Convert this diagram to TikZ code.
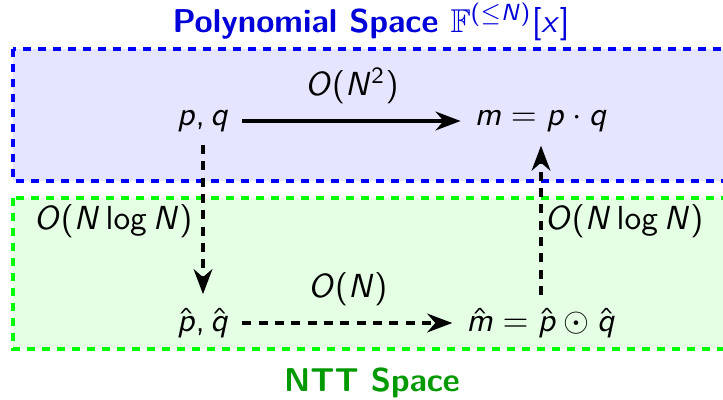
\documentclass[tikz,border=0pt]{standalone}
\usepackage{amssymb}
\usetikzlibrary{arrows.meta}
\DeclareSymbolFont{sfops}{OT1}{cmss}{m}{n}
\DeclareSymbolFont{sfletters}{OT1}{cmss}{m}{it}
\SetSymbolFont{operators}{normal}{OT1}{cmss}{m}{n}
\DeclareMathSymbol{p}{\mathalpha}{sfletters}{`p}
\DeclareMathSymbol{q}{\mathalpha}{sfletters}{`q}
\DeclareMathSymbol{m}{\mathalpha}{sfletters}{`m}
\DeclareMathSymbol{x}{\mathalpha}{sfletters}{`x}
\DeclareMathSymbol{N}{\mathalpha}{sfletters}{`N}
\DeclareMathSymbol{O}{\mathalpha}{sfletters}{`O}
\DeclareMathSymbol{(}{\mathopen}{sfops}{`(}
\DeclareMathSymbol{)}{\mathclose}{sfops}{`)}
\DeclareMathSymbol{[}{\mathopen}{sfops}{`[}
\DeclareMathSymbol{]}{\mathclose}{sfops}{`]}
\DeclareMathSymbol{=}{\mathrel}{sfops}{`=}
\DeclareMathSymbol{,}{\mathpunct}{sfops}{`,}
\DeclareMathSymbol{2}{\mathord}{sfops}{`2}
\DeclareMathAccent{\hat}{\mathalpha}{sfops}{"5E}
\begin{document}
\begin{tikzpicture}[x=0.3pt,y=-0.3pt,
  region/.style={line width=1.1pt,dash pattern=on 2.3pt off 2.2pt},
  lbl/.style={inner sep=0pt,font=\normalsize},
  flow/.style={line width=1.2pt,shorten <=3.8pt,shorten >=4pt,
    -{Stealth[length=7.5pt,width=5.6pt,inset=2.4pt]}},
  dflow/.style={flow,dash pattern=on 2.7pt off 2.2pt},
  title/.style={font=\sffamily\bfseries\fontsize{9.9}{12}\selectfont,inner sep=0pt}]
\useasboundingbox (0,0) rectangle (723,400);
\draw[region,draw=blue,fill=blue!10] (13,49) rectangle (730,181);
\draw[region,draw=green,fill=green!10] (13,198) rectangle (730,349);
\node[title,text=blue!85!black] (t1) at (371,22) {Polynomial Space $\mathbb{F}^{(\leq N)}[x]$};
\node[title,text=green!60!black] (t2) at (372,383) {NTT Space};
\node[lbl] (pq) at (203,121) {$p, q$};
\node[lbl] (m) at (541,121) {$m = p\cdot q$};
\node[lbl] (hpq) at (203,323) {$\hat p, \hat q$};
\node[lbl] (hm) at (541,323) {$\hat m = \hat p\odot \hat q$};
\draw[flow] (pq.east) -- node[lbl,above=4.5pt] (l1) {$O(N^2)$} (m.west);
\draw[dflow] (hpq.east) -- node[lbl,above=4.5pt] (l2) {$O(N)$} (hm.west);
\draw[dflow] (pq) -- (hpq);
\draw[dflow] (hm) -- (m);
\node[lbl] (l3) at (113,221) {$O(N\log N)$};
\node[lbl] (l4) at (624,221) {$O(N\log N)$};
\end{tikzpicture}
\end{document}
